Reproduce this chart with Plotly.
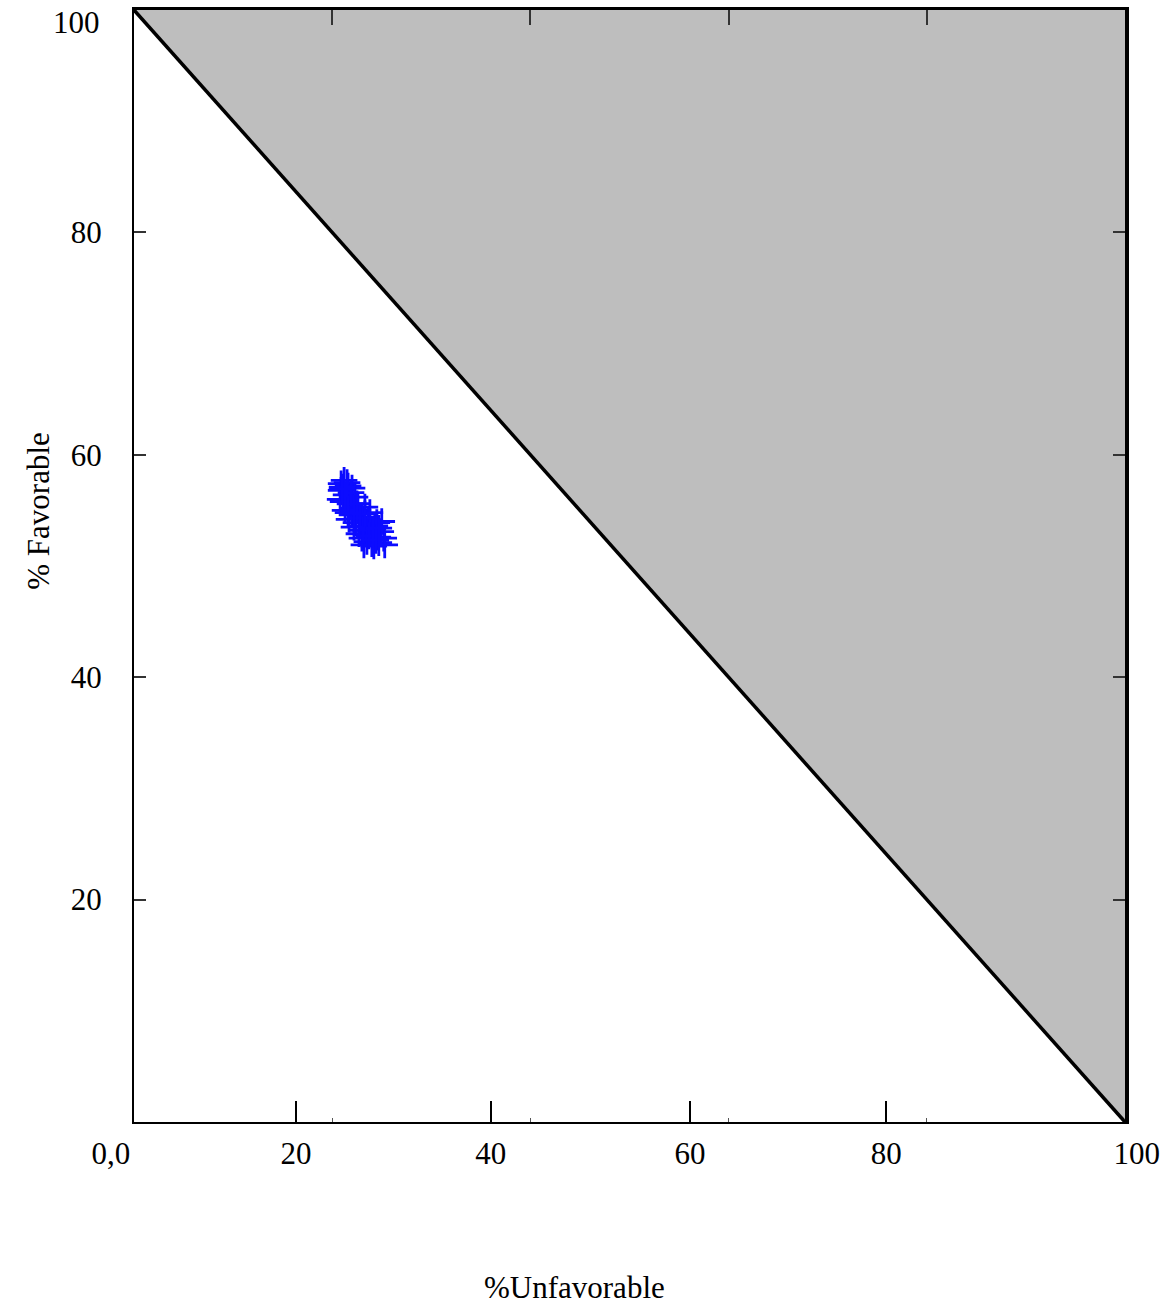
import plotly.graph_objects as go

# ---- data ----
unfav = [20.9, 21.2, 21.6, 20.9, 21.4, 22.0, 21.1, 21.8, 22.3, 20.8, 21.5, 22.1,
         22.0, 22.6, 23.0, 22.4, 23.3, 21.7, 22.9, 23.6, 22.2, 23.4, 23.8, 22.7,
         23.9, 24.3, 24.6, 23.5, 24.0, 24.9, 24.7, 25.2, 24.2, 23.2, 25.3, 24.5,
         25.0, 23.0, 21.3, 21.9, 22.5, 22.8, 23.1, 23.7, 24.1, 24.4, 21.0, 22.2,
         23.3, 24.7, 21.0, 21.6]
fav = [57.4, 57.7, 57.2, 56.8, 56.4, 57.0, 55.8, 55.6, 56.2, 56.0, 57.5, 55.2,
       54.6, 55.0, 54.4, 53.9, 55.3, 54.2, 53.6, 54.1, 54.9, 53.2, 54.8, 52.9,
       53.0, 53.6, 52.6, 52.2, 52.0, 53.1, 52.1, 52.5, 51.8, 51.9, 51.9, 53.9,
       54.0, 52.5, 55.0, 56.6, 55.6, 54.3, 53.2, 52.7, 53.3, 52.3, 57.1, 53.5,
       54.7, 53.4, 56.9, 54.8]

# infeasible region (fav + unfav > 100)
tri_x = [0, 100, 100, 0]
tri_y = [100, 100, 0, 100]
diag_x = [0, 100]
diag_y = [100, 0]

# bottom tick marks as drawn in the picture (offset from true grid) and labels
bottom_tick_pos = [0, 16.35, 36.0, 56.1, 75.9, 100]
bottom_tick_txt = ["0,0" + "\u00a0" * 6, "20", "40", "60", "80", "\u00a0" * 3 + "100"]
grid_ticks = [20, 40, 60, 80]

FONT = "Liberation Serif"
FS = 31

fig = go.Figure()
fig.add_trace(go.Scatter(x=tri_x, y=tri_y, mode="lines", fill="toself",
                         fillcolor="#bebebe", line=dict(width=0),
                         hoverinfo="skip", showlegend=False))
fig.add_trace(go.Scatter(x=diag_x, y=diag_y, mode="lines",
                         line=dict(color="black", width=3.5),
                         showlegend=False))
fig.add_trace(go.Scatter(x=unfav, y=fav, mode="markers",
                         marker=dict(symbol="cross-thin", size=19,
                                     line=dict(color="#0c0cff", width=2.8)),
                         showlegend=False))
# anchors so the mirrored frame axes are drawn
for xa, ya in [("x2", "y"), ("x3", "y"), ("x", "y2")]:
    fig.add_trace(go.Scatter(x=[None], y=[None], xaxis=xa, yaxis=ya,
                             mode="markers", showlegend=False, hoverinfo="skip"))

fig.update_layout(
    width=1166, height=1308,
    margin=dict(l=134, r=41, t=10, b=186, autoexpand=False),
    paper_bgcolor="white", plot_bgcolor="white",
    font=dict(family=FONT, size=FS, color="black"),
    xaxis=dict(range=[0, 100], showgrid=False, zeroline=False, automargin=False,
               showline=True, linecolor="black", linewidth=2,
               tickmode="array", tickvals=bottom_tick_pos, ticktext=bottom_tick_txt,
               ticks="inside", ticklen=21, tickwidth=2, tickcolor="black",
               ticklabelstandoff=3,
               tickfont=dict(family=FONT, size=FS, color="black")),
    xaxis2=dict(range=[0, 100], overlaying="x", side="top", showgrid=False,
                zeroline=False, showline=True, linecolor="black", linewidth=3,
                automargin=False,
                tickmode="array", tickvals=grid_ticks, ticks="inside",
                ticklen=15, tickwidth=2, tickcolor="#333", showticklabels=False),
    xaxis3=dict(range=[0, 100], overlaying="x", side="bottom", showgrid=False,
                zeroline=False, showline=False, automargin=False,
                tickmode="array", tickvals=grid_ticks, ticks="inside",
                ticklen=4, tickwidth=1, tickcolor="#555", showticklabels=False),
    yaxis=dict(range=[0, 100], showgrid=False, zeroline=False, automargin=False,
               showline=True, linecolor="black", linewidth=2,
               tickmode="array", tickvals=grid_ticks,
               ticks="inside", ticklen=12, tickwidth=1.5, tickcolor="#333",
               ticklabelstandoff=24,
               tickfont=dict(family=FONT, size=FS, color="black")),
    yaxis2=dict(range=[0, 100], overlaying="y", side="right", showgrid=False,
                zeroline=False, showline=True, linecolor="black", linewidth=4,
                automargin=False,
                tickmode="array", tickvals=grid_ticks, ticks="inside",
                ticklen=12, tickwidth=1.5, tickcolor="#333", showticklabels=False),
    annotations=[
        dict(x=0, y=100, xref="x", yref="y", text="100", showarrow=False,
             xanchor="right", yanchor="middle", xshift=-32, yshift=-12,
             font=dict(family=FONT, size=FS, color="black")),
        dict(x=0.445, y=-0.149, xref="paper", yref="paper", text="%Unfavorable",
             showarrow=False, xanchor="center", yanchor="middle",
             font=dict(family=FONT, size=FS, color="black")),
        dict(x=-0.0965, y=0.55, xref="paper", yref="paper", text="% Favorable",
             textangle=-90, showarrow=False, xanchor="center", yanchor="middle",
             font=dict(family=FONT, size=FS, color="black")),
    ],
)

fig.write_html("out.html", config={"displayModeBar": False},
               post_script="document.body.style.margin='0';"
                           "document.body.style.overflow='hidden';")
